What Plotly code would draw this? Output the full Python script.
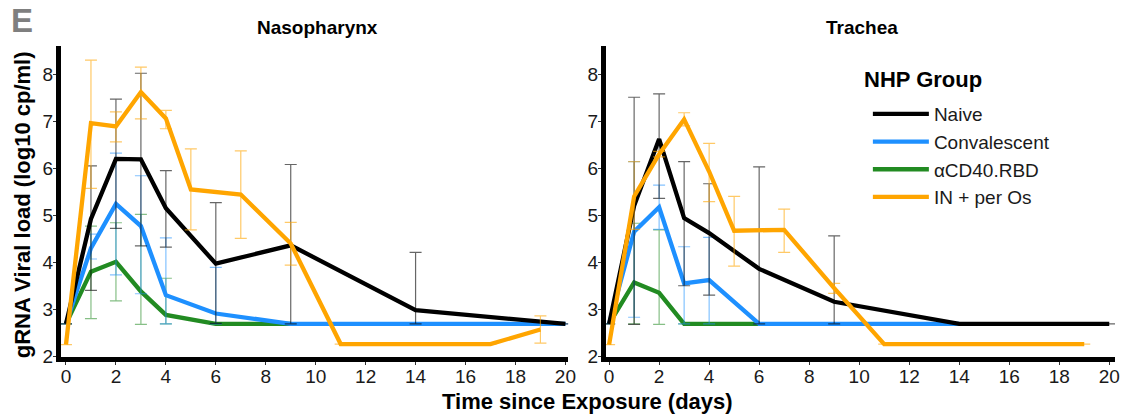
import plotly.graph_objects as go

# ---------------- data: Nasopharynx ----------------
naso_naive_day = [0, 1, 2, 3, 4, 6, 9, 14, 20]
naso_naive_mean = [2.69, 4.92, 6.20, 6.19, 5.15, 3.97, 4.36, 2.98, 2.69]
naso_naive_lo = [2.69, 3.40, 4.72, 4.35, 4.32, 2.70, 2.69, 2.69, 2.69]
naso_naive_hi = [2.69, 6.05, 7.47, 8.02, 5.95, 5.27, 6.08, 4.21, 2.69]

naso_conv_day = [0, 1, 2, 3, 4, 6, 9, 14, 20]
naso_conv_mean = [2.69, 4.30, 5.24, 4.77, 3.30, 2.91, 2.69, 2.69, 2.69]
naso_conv_lo = [2.69, 4.07, 3.73, 3.33, 2.69, 2.69, None, None, None]
naso_conv_hi = [2.69, 4.60, 6.32, 5.84, 4.52, 3.89, None, None, None]

naso_cd40_day = [0, 1, 2, 3, 4, 6, 9]
naso_cd40_mean = [2.69, 3.80, 4.01, 3.38, 2.88, 2.69, 2.69]
naso_cd40_lo = [2.69, 2.80, 3.18, 2.68, 2.69, None, None]
naso_cd40_hi = [2.69, 4.77, 4.84, 5.02, 3.66, None, None]

naso_inpo_day = [0, 1, 2, 3, 4, 5, 7, 9, 11, 17, 19]
naso_inpo_mean = [2.25, 6.96, 6.89, 7.62, 7.06, 5.55, 5.44, 4.40, 2.26, 2.26, 2.57]
naso_inpo_lo = [2.25, 5.57, 6.56, 7.05, 6.84, 4.69, 4.51, 3.94, None, None, 2.28]
naso_inpo_hi = [2.25, 8.30, 7.20, 8.15, 7.23, 6.41, 6.37, 4.85, None, None, 2.86]

# ---------------- data: Trachea ----------------
trach_naive_day = [0, 1, 2, 3, 4, 6, 9, 14, 20]
trach_naive_mean = [2.69, 5.20, 6.62, 4.94, 4.62, 3.86, 3.16, 2.69, 2.69]
trach_naive_lo = [2.69, 2.68, 5.36, 3.50, 3.30, 2.69, 2.69, None, 2.69]
trach_naive_hi = [2.69, 7.51, 7.58, 6.14, 5.67, 6.03, 4.56, None, 2.69]

trach_conv_day = [0, 1, 2, 3, 4, 6, 9, 14]
trach_conv_mean = [2.69, 4.65, 5.17, 3.55, 3.62, 2.69, 2.69, 2.69]
trach_conv_lo = [2.69, 2.83, 4.70, 2.69, 2.69, None, None, None]
trach_conv_hi = [2.69, 6.14, 5.64, 4.33, 4.53, None, None, None]

trach_cd40_day = [0, 1, 2, 3, 4, 6]
trach_cd40_mean = [2.69, 3.57, 3.35, 2.69, 2.69, 2.69]
trach_cd40_lo = [2.69, 2.69, 2.68, None, None, None]
trach_cd40_hi = [2.69, 4.83, 4.69, None, None, None]

trach_inpo_day = [0, 1, 2, 3, 4, 5, 7, 9, 11, 19]
trach_inpo_mean = [2.25, 5.40, 6.30, 7.04, 5.93, 4.67, 4.69, 3.45, 2.26, 2.26]
trach_inpo_lo = [2.25, 4.70, 6.24, 6.90, 5.29, 3.92, 4.21, 3.34, None, 2.26]
trach_inpo_hi = [2.25, 6.14, 6.36, 7.18, 6.53, 5.40, 5.13, 3.55, None, 2.26]

group_names = ["Naive", "Convalescent", "αCD40.RBD", "IN + per Os"]
line_colors = ["#000000", "#1E90FF", "#228B22", "#FFA500"]
bar_colors = ["rgba(0,0,0,0.6)", "rgba(30,144,255,0.55)",
              "rgba(34,139,34,0.55)", "rgba(255,165,0,0.6)"]

x_ticks = list(range(0, 21, 2))
y_ticks = [2, 3, 4, 5, 6, 7, 8]

FONT = "Liberation Sans, Arial, sans-serif"

panels = [
    ("x", "y", [
        (naso_naive_day, naso_naive_mean, naso_naive_lo, naso_naive_hi),
        (naso_conv_day, naso_conv_mean, naso_conv_lo, naso_conv_hi),
        (naso_cd40_day, naso_cd40_mean, naso_cd40_lo, naso_cd40_hi),
        (naso_inpo_day, naso_inpo_mean, naso_inpo_lo, naso_inpo_hi),
    ]),
    ("x2", "y2", [
        (trach_naive_day, trach_naive_mean, trach_naive_lo, trach_naive_hi),
        (trach_conv_day, trach_conv_mean, trach_conv_lo, trach_conv_hi),
        (trach_cd40_day, trach_cd40_mean, trach_cd40_lo, trach_cd40_hi),
        (trach_inpo_day, trach_inpo_mean, trach_inpo_lo, trach_inpo_hi),
    ]),
]


def err_parts(mean, lo, hi):
    plus, minus = [], []
    for m, l, h in zip(mean, lo, hi):
        plus.append(None if h is None else h - m)
        minus.append(None if l is None else m - l)
    return plus, minus


fig = go.Figure()

# draw order: green, blue, black, orange (orange on top)
draw_order = [2, 1, 0, 3]

for pi, (xa, ya, series) in enumerate(panels):
    for gi in draw_order:
        day, mean, lo, hi = series[gi]
        plus, minus = err_parts(mean, lo, hi)
        fig.add_trace(go.Scatter(
            x=day, y=mean, xaxis=xa, yaxis=ya,
            mode="lines",
            name=group_names[gi],
            legendgroup=group_names[gi],
            legendrank=gi + 1,
            showlegend=(pi == 0),
            line=dict(color=line_colors[gi], width=4.3),
            error_y=dict(type="data", symmetric=False, array=plus,
                         arrayminus=minus, color=bar_colors[gi],
                         thickness=1.2, width=6),
            hoverinfo="skip",
        ))

L0, L1 = 61, 1123
T0, B0 = 46, 357
W = L1 - L0
H = B0 - T0


def px_x(p):
    return (p - L0) / W


def px_y(p):
    return (B0 - p) / H


axis_common = dict(
    showgrid=False, zeroline=False, showline=True, linecolor="black",
    linewidth=5, ticks="outside", ticklen=3, tickwidth=1.2,
    tickcolor="#333333",
    tickfont=dict(family=FONT, size=19, color="#1a1a1a"),
)

fig.update_layout(
    width=1133, height=419,
    margin=dict(l=L0, r=1133 - L1, t=T0, b=419 - B0),
    paper_bgcolor="white", plot_bgcolor="white",
    font=dict(family=FONT, color="black"),
    xaxis=dict(domain=[0, px_x(572)], range=[-0.2, 20.11],
               tickvals=x_ticks, anchor="y", ticklabelstandoff=-5,
               **axis_common),
    yaxis=dict(domain=[0, 1], range=[1.985, 8.6], tickvals=y_ticks,
               anchor="x", ticklabelstandoff=-4, **axis_common),
    xaxis2=dict(domain=[px_x(610), 1], range=[-0.13, 20.23],
                tickvals=x_ticks, anchor="y2", ticklabelstandoff=-5,
                **axis_common),
    yaxis2=dict(domain=[0, 1], range=[1.985, 8.6], tickvals=y_ticks,
                anchor="x2", ticklabelstandoff=-4, **axis_common),
    legend=dict(
        x=px_x(874), y=px_y(95), xanchor="left", yanchor="top",
        font=dict(family=FONT, size=19, color="#1a1a1a"),
        itemwidth=56, bgcolor="rgba(0,0,0,0)", tracegroupgap=0,
    ),
    showlegend=True,
)

annotations = [
    dict(text="<b>E</b>", x=px_x(9), y=px_y(21), xanchor="left",
         yanchor="middle", font=dict(family=FONT, size=33, color="#7f7f7f")),
    dict(text="<b>Nasopharynx</b>", x=px_x(319), y=px_y(28),
         xanchor="center", yanchor="middle",
         font=dict(family=FONT, size=19, color="black")),
    dict(text="<b>Trachea</b>", x=px_x(868), y=px_y(28),
         xanchor="center", yanchor="middle",
         font=dict(family=FONT, size=19, color="black")),
    dict(text="<b>NHP Group</b>", x=px_x(868), y=px_y(79),
         xanchor="left", yanchor="middle",
         font=dict(family=FONT, size=22, color="black")),
    dict(text="<b>gRNA Viral load (log10 cp/ml)</b>", x=px_x(22),
         y=px_y(205), xanchor="center", yanchor="middle", textangle=-90,
         font=dict(family=FONT, size=22, color="black")),
    dict(text="<b>Time since Exposure (days)</b>", x=px_x(591),
         y=px_y(401), xanchor="center", yanchor="middle",
         font=dict(family=FONT, size=22, color="black")),
]
for a in annotations:
    a.update(xref="paper", yref="paper", showarrow=False)
fig.update_layout(annotations=annotations)

fig.write_html("out.html")
